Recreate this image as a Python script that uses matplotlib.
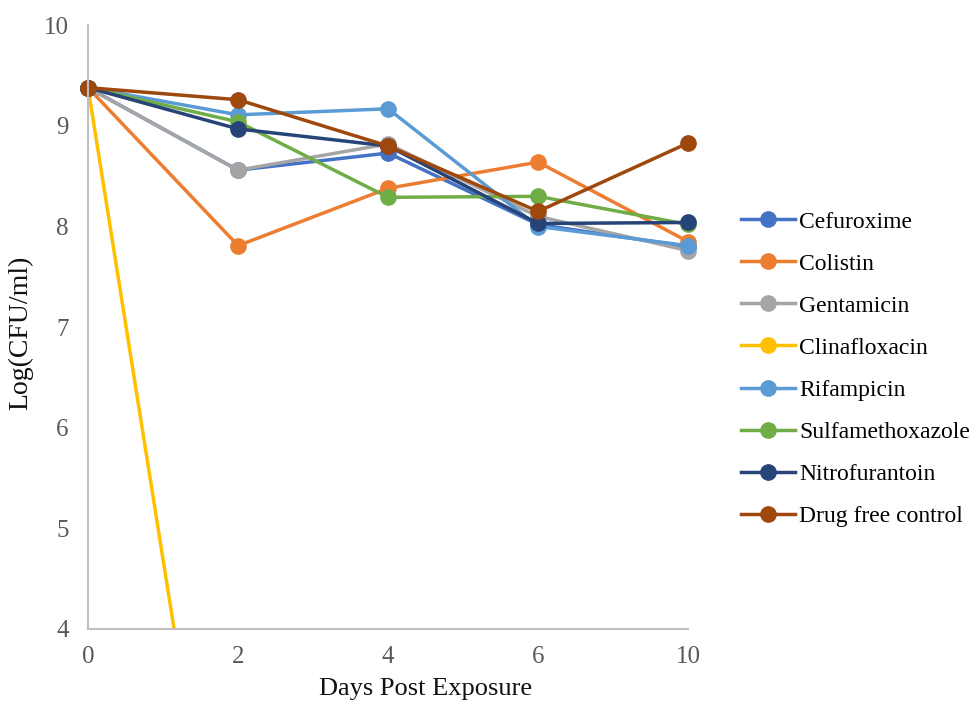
import matplotlib.pyplot as plt
import numpy as np

plt.rcParams["font.family"] = ["Liberation Serif", "DejaVu Serif"]

days = ["0", "2", "4", "6", "10"]
drugs = ["Cefuroxime", "Colistin", "Gentamicin", "Clinafloxacin",
         "Rifampicin", "Sulfamethoxazole", "Nitrofurantoin", "Drug free control"]

cefuroxime = [9.38, 8.56, 8.73, 8.02, 7.80]
colistin = [9.38, 7.81, 8.38, 8.64, 7.85]
gentamicin = [9.38, 8.56, 8.82, 8.10, 7.76]
clinafloxacin = [9.38, 0.0, 0.0, 0.0, 0.0]
rifampicin = [9.38, 9.11, 9.17, 8.00, 7.81]
sulfamethoxazole = [9.38, 9.04, 8.29, 8.30, 8.02]
nitrofurantoin = [9.38, 8.97, 8.80, 8.03, 8.04]
drug_free = [9.38, 9.26, 8.80, 8.15, 8.83]

series = [cefuroxime, colistin, gentamicin, clinafloxacin,
          rifampicin, sulfamethoxazole, nitrofurantoin, drug_free]
colors = ["#4472C4", "#ED7D31", "#A5A5A5", "#FFC000",
          "#5B9BD5", "#70AD47", "#264478", "#9E480E"]

fig = plt.figure(figsize=(9.75, 7.02), dpi=100)
ax = fig.add_axes([0.0903, 0.104, 0.6155, 0.860])

x = np.arange(len(days))
for name, vals, c in zip(drugs, series, colors):
    # series that drop off the bottom of the axis stay clipped
    clip = min(vals) < 4
    ax.plot(x, vals, color=c, lw=2.5, marker="o", ms=11, label=name,
            clip_on=clip)

ax.set_xlim(0, len(days) - 1)
ax.set_ylim(4, 10)
ax.set_xticks(x)
ax.set_xticklabels(days)
ax.set_yticks(range(4, 11))
ax.tick_params(length=0, labelsize=18, labelcolor="#595959")
ax.tick_params(axis="y", pad=14)
ax.tick_params(axis="x", pad=12)
for s in ["top", "right"]:
    ax.spines[s].set_visible(False)
for s in ["left", "bottom"]:
    ax.spines[s].set_color("#BFBFBF")
    ax.spines[s].set_linewidth(1.5)

ax.set_xlabel("Days Post Exposure", fontsize=19, color="#111111", va="center")
ax.set_ylabel("Log(CFU/ml)", fontsize=20, color="#111111", va="center")
ax.xaxis.set_label_coords(0.563, -0.1)
ax.yaxis.set_label_coords(-0.113, 0.49)

ax.legend(loc="center left", bbox_to_anchor=(741 / 975, 1 - 369 / 702),
          bbox_transform=fig.transFigure, frameon=False, fontsize=17,
          handlelength=2.3, labelspacing=0.87, handletextpad=0.17,
          borderpad=0, borderaxespad=0)

fig.savefig("out.png", dpi=100)
